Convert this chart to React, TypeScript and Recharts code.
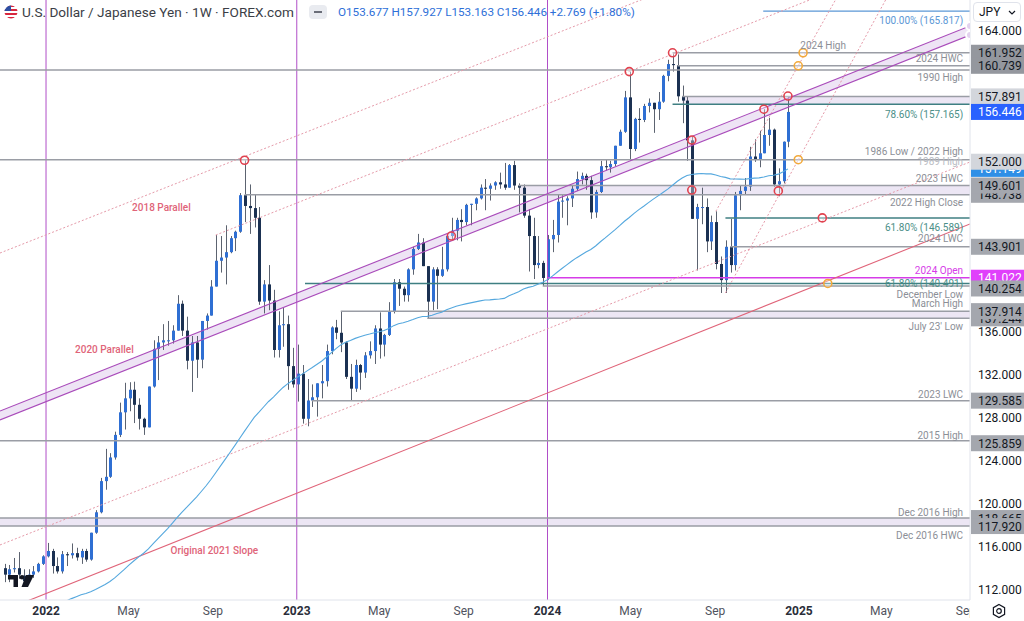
import React from "react";
import {
  Area,
  Bar,
  ComposedChart,
  Line,
  ReferenceArea,
  ReferenceDot,
  ReferenceLine,
  XAxis,
  YAxis,
} from "recharts";

const FONT = "Roboto, 'Noto Sans', Arial, sans-serif";

const W = 1024;
const H = 621;
const PLOT_RIGHT = 970;

const DAY = 86400000;
const day = (s: string) => Date.parse(s);

// visible window
const X_START = "2021-10-26";
const X_END = "2025-09-07";
const PRICE_MIN = 111.04;
const PRICE_MAX = 166.86;

// weekly bars [open, high, low, close], the first one is the week of 1 Nov 2021
const FIRST_WEEK = "2021-11-01";

const bars2021 = [
  [114.0, 114.4, 112.7, 113.4], [113.4, 114.3, 112.7, 113.9], [113.9, 114.95, 113.6, 114.0],
  [114.0, 115.5, 113.0, 113.4], [113.3, 113.9, 112.5, 112.8], [112.8, 113.9, 112.7, 113.4],
  [113.4, 114.2, 113.1, 113.7], [113.7, 114.5, 113.6, 114.4], [114.4, 115.2, 114.3, 115.1],
];

const bars2022 = [
  [115.1, 116.35, 115.0, 115.6], [115.6, 115.8, 113.5, 114.2], [114.2, 115.0, 113.5, 113.7],
  [113.7, 115.6, 113.5, 115.3], [115.3, 115.5, 114.2, 115.2], [115.2, 116.3, 114.9, 115.4],
  [115.4, 115.9, 114.7, 115.0], [115.0, 115.8, 114.4, 115.6], [115.6, 115.8, 114.6, 114.8],
  [114.8, 117.3, 114.7, 117.3], [117.3, 119.4, 117.2, 119.2], [119.2, 122.4, 119.1, 122.1],
  [122.1, 125.1, 121.3, 122.5], [122.5, 124.7, 122.4, 124.3], [124.3, 126.7, 124.1, 126.4],
  [126.4, 129.4, 126.2, 128.5], [128.5, 131.25, 126.9, 129.8], [129.8, 131.3, 128.6, 130.6],
  [130.6, 131.35, 127.5, 129.2], [129.2, 129.8, 126.9, 127.9], [127.9, 128.0, 126.4, 127.1],
  [127.1, 130.9, 127.1, 130.9], [130.9, 135.2, 130.8, 134.4], [134.4, 135.6, 131.5, 135.0],
  [135.0, 136.7, 134.3, 135.2], [135.2, 137.0, 134.7, 135.2], [135.2, 136.6, 134.9, 136.1],
  [136.1, 139.4, 136.1, 138.6], [138.6, 138.9, 135.6, 136.1], [136.1, 137.4, 132.5, 133.3],
  [133.3, 135.6, 130.4, 135.0], [135.0, 135.6, 131.7, 133.4], [133.4, 137.0, 132.6, 137.0],
  [137.0, 137.7, 136.2, 137.5], [137.5, 140.8, 137.5, 140.2], [140.2, 144.99, 140.2, 142.6],
  [142.6, 144.9, 141.5, 142.9], [142.9, 145.9, 140.4, 143.4], [143.4, 144.9, 143.3, 144.7],
  [144.7, 145.4, 143.5, 145.3], [145.3, 148.9, 145.2, 148.7], [148.7, 151.95, 146.2, 147.7],
  [147.7, 149.7, 145.1, 147.5], [147.5, 148.8, 145.7, 146.6], [146.6, 147.6, 138.5, 138.8],
  [138.8, 140.8, 137.7, 140.4], [140.4, 142.2, 138.0, 138.9], [138.9, 139.9, 133.6, 134.3],
  [134.3, 137.9, 133.6, 136.6], [136.6, 138.2, 134.6, 136.7], [136.7, 137.5, 130.6, 132.8],
  [132.8, 134.5, 130.8, 131.1],
];

const bars2023 = [
  [131.1, 134.8, 129.5, 132.1], [132.1, 132.9, 127.45, 127.9], [127.9, 131.6, 127.2, 129.6],
  [129.6, 131.1, 129.0, 129.9], [129.9, 131.2, 128.1, 131.2], [131.2, 132.9, 129.8, 131.4],
  [131.4, 134.8, 130.9, 134.2], [134.2, 136.5, 133.9, 136.4], [136.4, 137.1, 135.3, 135.9],
  [135.9, 137.9, 134.1, 135.0], [135.0, 135.1, 131.6, 131.8], [131.8, 133.0, 129.6, 130.7],
  [130.7, 133.4, 130.4, 132.9], [132.9, 133.0, 130.6, 132.2], [132.2, 134.1, 131.7, 133.8],
  [133.8, 135.1, 133.5, 134.2], [134.2, 136.6, 133.0, 136.3], [136.3, 137.8, 133.5, 134.8],
  [134.8, 135.8, 133.7, 135.7], [135.7, 138.75, 135.6, 137.9], [137.9, 140.9, 137.7, 140.6],
  [140.6, 140.9, 138.4, 140.0], [140.0, 140.2, 138.8, 139.4], [139.4, 141.9, 138.8, 141.8],
  [141.8, 143.9, 141.3, 143.7], [143.7, 145.1, 143.6, 144.3], [144.3, 144.7, 142.1, 142.1],
  [142.1, 142.1, 137.2, 138.8], [138.8, 142.0, 138.0, 141.8], [141.8, 142.0, 138.1, 141.2],
  [141.2, 143.9, 141.1, 141.8], [141.8, 144.9, 141.6, 144.9], [144.9, 146.6, 144.6, 145.4],
  [145.4, 146.6, 144.5, 146.4], [146.4, 147.4, 144.4, 146.2], [146.2, 147.9, 145.9, 147.8],
  [147.8, 147.9, 145.9, 147.9], [147.9, 148.5, 147.3, 148.4], [148.4, 149.7, 148.3, 149.4],
  [149.4, 150.2, 147.3, 149.3], [149.3, 149.8, 148.2, 149.6], [149.6, 150.0, 149.2, 149.9],
  [149.9, 150.8, 149.3, 149.7], [149.7, 151.7, 149.2, 149.4], [149.4, 151.6, 149.4, 151.5],
  [151.5, 151.9, 149.2, 149.6], [149.6, 149.8, 147.1, 149.4], [149.4, 149.7, 146.6, 146.8],
  [146.8, 147.4, 141.6, 144.9], [144.9, 146.6, 140.9, 142.2], [142.2, 144.9, 141.9, 142.4],
  [142.4, 142.6, 140.25, 141.0],
];

const bars2024 = [
  [141.0, 145.0, 140.8, 144.6], [144.6, 146.4, 143.4, 145.0], [145.0, 148.8, 144.3, 148.1],
  [148.1, 148.7, 146.6, 148.2], [148.2, 148.6, 145.9, 148.4], [148.4, 149.6, 147.6, 149.3],
  [149.3, 150.9, 149.1, 150.2], [150.2, 150.8, 149.7, 150.5], [150.5, 150.7, 149.2, 150.1],
  [150.1, 150.5, 146.5, 147.1], [147.1, 149.2, 146.6, 149.0], [149.0, 151.9, 148.9, 151.4],
  [151.4, 151.97, 151.0, 151.3], [151.3, 151.9, 150.8, 151.6], [151.6, 153.3, 151.4, 153.3],
  [153.3, 154.8, 153.3, 154.6], [154.6, 158.4, 154.5, 157.8], [157.8, 160.2, 151.9, 153.0],
  [153.0, 155.9, 152.8, 155.8], [155.8, 156.8, 153.6, 155.7], [155.7, 157.2, 155.5, 157.0],
  [157.0, 157.7, 156.4, 157.3], [157.3, 157.3, 154.5, 156.7], [156.7, 158.3, 155.7, 157.4],
  [157.4, 159.9, 157.3, 159.8], [159.8, 161.3, 159.3, 160.9], [160.9, 161.95, 160.2, 160.8],
  [160.8, 161.8, 157.4, 157.9], [157.9, 158.9, 155.4, 157.5], [157.5, 157.9, 151.9, 153.8],
  [153.8, 154.2, 146.5, 146.5], [146.5, 147.9, 141.7, 147.6], [147.6, 149.4, 146.0, 147.6],
  [147.6, 148.4, 143.4, 144.4], [144.4, 146.8, 143.6, 146.2], [146.2, 147.2, 141.8, 142.3],
  [142.3, 143.0, 139.6, 140.8], [140.8, 144.5, 139.6, 143.9], [143.9, 146.5, 141.5, 142.2],
  [142.2, 149.0, 141.7, 148.7], [148.7, 149.6, 147.3, 149.1], [149.1, 150.3, 148.8, 149.5],
  [149.5, 153.2, 149.1, 152.3], [152.3, 153.9, 151.8, 152.0], [152.0, 154.7, 151.3, 152.6],
  [152.6, 156.7, 152.6, 154.3], [154.3, 155.9, 153.3, 154.8], [154.8, 154.9, 149.5, 149.7],
  [149.7, 151.2, 148.6, 150.0], [150.0, 153.7, 149.8, 153.677], [153.677, 157.927, 153.163, 156.446],
];

// weekly closes Nov 2020 - Oct 2021, seed for the 52-week average
const closesBefore = [
  103.35, 104.63, 103.86, 104.08, 104.16, 104.04, 103.29, 103.64, 103.24, 103.94, 103.86, 103.77,
  104.68, 105.4, 104.94, 105.43, 106.57, 108.34, 109.03, 108.88, 109.64, 110.69, 109.65, 108.77,
  107.88, 109.3, 108.59, 109.37, 108.96, 109.85, 109.52, 109.66, 110.22, 110.77, 111.05, 110.14,
  110.06, 110.54, 109.71, 110.25, 109.6, 109.77, 109.85, 109.71, 109.89, 109.94, 110.74, 111.05,
  112.2, 114.21, 113.48, 113.96,
];
const MA_LENGTH = 52;

// x-axis ticks
const timeTicks = [
  "2022-01-01", "2022-05-01", "2022-09-01", "2023-01-01", "2023-05-01", "2023-09-01",
  "2024-01-01", "2024-05-01", "2024-09-01", "2025-01-01", "2025-05-01", "2025-09-01",
];
const plainPriceTicks = [164, 136, 132, 128, 124, 120, 116, 112];

// year separators
const yearLines = ["2022-01-01", "2023-01-01", "2024-01-01"];

// horizontal levels [price, first date or null for full width]
const greyLevels: [number, string | null][] = [
  [161.952, "2024-07-01"],
  [160.739, "2024-07-08"],
  [160.35, null],
  [157.891, "2024-07-15"],
  [152.0, null],
  [149.601, "2023-11-20"],
  [148.738, "2022-10-17"],
  [143.901, "2024-09-23"],
  [140.254, "2023-12-25"],
  [137.914, "2023-03-06"],
  [137.244, "2023-07-10"],
  [129.585, "2023-01-23"],
  [125.859, null],
  [118.665, null],
  [117.92, null],
];
const fibLevels: [number, string][] = [
  [157.165, "2024-07-01"],
  [146.589, "2024-09-16"],
  [140.491, "2023-01-13"],
];
const fibExtension: [number, string] = [165.817, "2024-11-10"];
const yearOpen: [number, string] = [141.022, "2024-01-01"];

// shaded zones [low, high, first date or null]
const zones: [number, number, string | null][] = [
  [157.165, 157.891, "2024-07-15"],
  [148.738, 149.601, "2023-11-20"],
  [137.244, 137.914, "2023-07-10"],
  [117.92, 118.665, null],
];

// trendlines [[date, price], [date, price]]
type Pt = [string, number];
const channelTop: [Pt, Pt] = [["2021-10-26", 128.62], ["2025-09-07", 164.44]];
const channelBottom: [Pt, Pt] = [["2021-10-26", 127.79], ["2025-09-07", 163.6]];
const slope2021: [Pt, Pt] = [["2021-10-26", 109.93], ["2025-09-07", 146.02]];
const parallels: [Pt, Pt][] = [
  [["2021-10-26", 143.32], ["2025-09-07", 178.95]],
  [["2022-09-05", 144.99], ["2025-09-07", 172.77]],
  [["2021-10-26", 116.16], ["2025-09-07", 151.79]],
];
const fanLines: [Pt, Pt][] = [
  [["2024-09-02", 147.2], ["2025-03-07", 168.2]],
  [["2024-09-16", 139.6], ["2025-05-28", 169.3]],
];

// pivots
const redMarks: Pt[] = [
  ["2022-10-17", 151.95], ["2023-08-14", 144.9], ["2024-04-29", 160.2], ["2024-07-01", 161.95],
  ["2024-07-29", 153.83], ["2024-07-29", 149.18], ["2024-11-11", 156.7], ["2024-12-02", 149.1],
  ["2024-12-16", 157.927], ["2025-02-04", 146.589],
];
const orangeMarks: Pt[] = [
  ["2025-01-07", 161.952], ["2024-12-31", 160.739], ["2024-12-31", 152.0], ["2025-02-12", 140.491],
];

// captions, right aligned at the plot edge [price, text]
const greyCaptions: [number, string][] = [
  [161.46, "2024 HWC"], [159.65, "1990 High"], [152.72, "1986 Low / 2022 High"],
  [150.3, "2023 HWC"], [147.98, "2022 High Close"], [144.63, "2024 LWC"],
  [139.46, "December Low"], [138.58, "March High"], [136.48, "July 23' Low"],
  [130.2, "2023 LWC"], [126.38, "2015 High"], [119.22, "Dec 2016 High"], [117.04, "Dec 2016 HWC"],
];
const faintCaptions: [number, string][] = [[151.88, "1989 High"]];
const fibCaptions: [number, string][] = [
  [156.25, "78.60% (157.165)"], [145.65, "61.80% (146.589)"], [140.44, "61.80% (140.491)"],
];
const extensionCaption: [number, string] = [164.95, "100.00% (165.817)"];
const openCaption: [number, string] = [141.65, "2024 Open"];
const highCaption: [string, number, string] = ["2025-01-03", 162.67, "2024 High"];
const lineCaptions: [string, number, string][] = [
  ["2022-06-18", 147.6, "2018 Parallel"],
  ["2022-03-27", 134.39, "2020 Parallel"],
  ["2022-09-03", 115.6, "Original 2021 Slope"],
];

const UP = "#2f6fd3";
const DOWN = "#1b3152";
const WICK = "#5c6370";
const BORDER = "#e0e3eb";
const LEVEL = "#9a9da5";
const CAPTION = "#8c8f97";
const TEAL = "#3f7f82";
const TEAL_TEXT = "#4b8f88";
const FIB_BLUE = "#5b97d6";
const MAGENTA = "#d63ce8";
const YEAR_LINE = "#b04ec8";
const CHANNEL = "#a94bba";
const CHANNEL_FILL = "#e2d2ee";
const SLOPE = "#e06479";
const DOTTED = "#e59aa9";
const MA_BLUE = "#55a8de";
const ZONE_FILL = "#e6def0";
const MONTHS = ["Jan", "Feb", "Mar", "Apr", "May", "Jun", "Jul", "Aug", "Sep", "Oct", "Nov", "Dec"];

const X_MIN = day(X_START);
const X_MAX = day(X_END);
const CAPTION_X = X_MAX - 10 * DAY;

const rows = [...bars2021, ...bars2022, ...bars2023, ...bars2024];
const allCloses = [...closesBefore, ...rows.map((r) => r[3])];
const candles = rows.map(([o, h, l, c], i) => {
  const j = closesBefore.length + i;
  const win = allCloses.slice(j - MA_LENGTH + 1, j + 1);
  return {
    t: day(FIRST_WEEK) + i * 7 * DAY,
    o, h, l, c,
    range: [l, h],
    ma: win.reduce((a, b) => a + b, 0) / win.length,
  };
});
const last = candles[candles.length - 1];
const prevClose = candles[candles.length - 2].c;

const channelBand = [
  { t: day(channelBottom[0][0]), band: [channelBottom[0][1], channelTop[0][1]] },
  { t: day(channelBottom[1][0]), band: [channelBottom[1][1], channelTop[1][1]] },
];

// price-axis badges, drawn in order (later ones cover earlier ones)
const GREY_BADGE = "#a4a7ae";
const LIGHT_BADGE = "#d3d6dc";
const badges: { v: number; bg: string; fg: string; dy?: number }[] = [
  { v: last.ma, bg: "#2f8fe6", fg: "#fff" },
  { v: 148.738, bg: GREY_BADGE, fg: "#131722" },
  { v: 141.022, bg: "#e040fb", fg: "#fff" },
  { v: 137.244, bg: GREY_BADGE, fg: "#131722" },
  { v: 118.665, bg: GREY_BADGE, fg: "#131722" },
  { v: 161.952, bg: "#94979e", fg: "#131722" },
  { v: 160.739, bg: "#94979e", fg: "#131722" },
  { v: 157.891, bg: LIGHT_BADGE, fg: "#131722" },
  { v: last.c, bg: "#2962ff", fg: "#fff" },
  { v: 152.0, bg: LIGHT_BADGE, fg: "#131722", dy: 2 },
  { v: 149.601, bg: GREY_BADGE, fg: "#131722" },
  { v: 143.901, bg: GREY_BADGE, fg: "#131722" },
  { v: 140.254, bg: GREY_BADGE, fg: "#131722", dy: 2.5 },
  { v: 137.914, bg: GREY_BADGE, fg: "#131722" },
  { v: 129.585, bg: GREY_BADGE, fg: "#131722" },
  { v: 125.859, bg: GREY_BADGE, fg: "#131722", dy: 2.5 },
  { v: 117.92, bg: GREY_BADGE, fg: "#131722" },
];
const priceTicks = [...plainPriceTicks, ...badges.map((b) => b.v)];

function Candle(props: any) {
  const { x, y, width, height, payload } = props;
  if (!payload || height == null) return null;
  const { o, h, l, c } = payload;
  const span = h - l || 1;
  const py = (v: number) => y + ((h - v) / span) * height;
  const cx = Math.round(x + width / 2) + 0.5;
  const top = py(Math.max(o, c));
  const bot = py(Math.min(o, c));
  return (
    <g>
      <line x1={cx} x2={cx} y1={y} y2={y + height} stroke={WICK} strokeWidth={1} />
      <rect x={cx - 1.5} y={top} width={3} height={Math.max(1, bot - top)} fill={c >= o ? UP : DOWN} />
    </g>
  );
}

function TimeTick({ x, y, payload }: any) {
  const d = new Date(payload.value);
  const m = d.getUTCMonth();
  const isYear = m === 0;
  return (
    <svg x={0} y={y} width={PLOT_RIGHT} height={21} overflow="hidden">
      <text
        x={x}
        y={15}
        textAnchor="middle"
        fontSize={12}
        fontWeight={isYear ? 700 : 400}
        fill={isYear ? "#2a2e39" : "#50535e"}
        fontFamily={FONT}
      >
        {isYear ? d.getUTCFullYear() : MONTHS[m]}
      </text>
    </svg>
  );
}

function PriceTick({ y, payload, index }: any) {
  const v = payload.value;
  const bi = index - plainPriceTicks.length;
  const b = bi >= 0 ? badges[bi] : null;
  if (!b) {
    return (
      <text x={PLOT_RIGHT + 8} y={y} dy={4.5} fontSize={12} fill="#131722" fontFamily={FONT}>
        {v.toFixed(3)}
      </text>
    );
  }
  const cy = y + (b.dy ?? 0);
  return (
    <g>
      <rect x={PLOT_RIGHT + 1} y={cy - 8} width={W - PLOT_RIGHT - 1} height={16} fill={b.bg} />
      <text x={PLOT_RIGHT + 8} y={cy} dy={4.5} fontSize={12} fill={b.fg} fontFamily={FONT}>
        {v.toFixed(3)}
      </text>
    </g>
  );
}

const caption = (text: string, color: string, anchor: "start" | "middle" | "end", weight = 400) =>
  (p: any) => (
    <text
      x={p.cx}
      y={p.cy}
      dy={3.5}
      textAnchor={anchor}
      fontSize={10}
      fontWeight={weight}
      fill={color}
      fontFamily={FONT}
    >
      {text}
    </text>
  );

const ring = (color: string, r: number) => (p: any) => (
  <circle cx={p.cx} cy={p.cy} r={r} fill="#ffffff" fillOpacity={0.35} stroke={color} strokeWidth={1.6} />
);

const seg = ([a, b]: [Pt, Pt]) => [
  { x: day(a[0]), y: a[1] },
  { x: day(b[0]), y: b[1] },
];

function Header() {
  const change = last.c - prevClose;
  const pct = (change / prevClose) * 100;
  return (
    <>
      <svg style={{ position: "absolute", left: 4, top: 5 }} width={14} height={14}>
        <defs>
          <clipPath id="flag">
            <circle cx={7} cy={7} r={6.5} />
          </clipPath>
        </defs>
        <g clipPath="url(#flag)">
          <rect x={0} y={0} width={14} height={14} fill="#fff" />
          {[0, 4, 8, 12].map((s) => (
            <rect key={s} x={0} y={s} width={14} height={2} fill="#d7263d" />
          ))}
          <rect x={0} y={0} width={7} height={6} fill="#2d4ea2" />
        </g>
      </svg>
      <div
        style={{
          position: "absolute",
          left: 22,
          top: 4,
          fontSize: 13.6,
          color: "#3b3e46",
          whiteSpace: "nowrap",
          lineHeight: "16px",
        }}
      >
        U.S. Dollar / Japanese Yen · 1W · FOREX.com
      </div>
      <div
        style={{
          position: "absolute",
          left: 309,
          top: 5,
          width: 18,
          height: 14,
          borderRadius: 4,
          background: "#e9ebf0",
        }}
      >
        <div style={{ position: "absolute", left: 5, top: 6, width: 8, height: 2, background: "#6a6d78" }} />
      </div>
      <div
        style={{
          position: "absolute",
          left: 338,
          top: 5,
          fontSize: 11.7,
          color: "#2e6fd8",
          whiteSpace: "nowrap",
          lineHeight: "15px",
        }}
      >
        {`O${last.o.toFixed(3)} H${last.h.toFixed(3)} L${last.l.toFixed(3)} C${last.c.toFixed(3)} +${change.toFixed(3)} (+${pct.toFixed(2)}%)`}
      </div>
    </>
  );
}

function Chrome() {
  return (
    <>
      <div
        style={{
          position: "absolute",
          left: 973,
          top: 2,
          width: 48,
          height: 20,
          border: `1px solid ${BORDER}`,
          borderRadius: 4,
          background: "#fff",
          boxSizing: "border-box",
        }}
      >
        <span style={{ position: "absolute", left: 5, top: 2, fontSize: 12, color: "#131722" }}>JPY</span>
        <svg style={{ position: "absolute", left: 34, top: 7 }} width={8} height={5}>
          <path d="M1 1 L4 4 L7 1" fill="none" stroke="#131722" strokeWidth={1.2} />
        </svg>
      </div>
      <svg style={{ position: "absolute", left: 991, top: 603 }} width={16} height={16}>
        <path d="M8 1.5 L13.6 4.7 L13.6 11.3 L8 14.5 L2.4 11.3 L2.4 4.7 Z" fill="none" stroke="#131722" strokeWidth={1.2} />
        <circle cx={8} cy={8} r={2.3} fill="none" stroke="#131722" strokeWidth={1.2} />
      </svg>
      <svg style={{ position: "absolute", left: 8, top: 575 }} width={28} height={13}>
        <path d="M0 0 H10 V12 H5.5 V4.5 H0 Z" fill="#131722" />
        <circle cx={14} cy={2.3} r={2.3} fill="#131722" />
        <path d="M18 0 H26 L20 12 H13.5 Z" fill="#131722" />
      </svg>
    </>
  );
}

export default function App() {
  return (
    <div
      style={{
        position: "absolute",
        left: 0,
        top: 0,
        width: W,
        height: H,
        background: "#fff",
        overflow: "hidden",
        fontFamily: FONT,
      }}
    >
      <ComposedChart width={W} height={H} data={candles} margin={{ top: 0, right: 0, bottom: 0, left: 0 }}>
        <XAxis
          dataKey="t"
          type="number"
          domain={[X_MIN, X_MAX]}
          allowDataOverflow
          ticks={timeTicks.map(day)}
          interval={0}
          tick={<TimeTick />}
          tickLine={false}
          tickSize={0}
          tickMargin={0}
          axisLine={{ stroke: BORDER }}
          height={21}
        />
        <YAxis
          orientation="right"
          type="number"
          domain={[PRICE_MIN, PRICE_MAX]}
          allowDataOverflow
          ticks={priceTicks}
          interval={0}
          tick={<PriceTick />}
          tickLine={false}
          tickSize={0}
          tickMargin={0}
          axisLine={{ stroke: BORDER }}
          width={W - PLOT_RIGHT}
        />

        {zones.map(([lo, hi, from], i) => (
          <ReferenceArea
            key={`z${i}`}
            x1={from ? day(from) : X_MIN}
            x2={X_MAX}
            y1={lo}
            y2={hi}
            fill={ZONE_FILL}
            fillOpacity={0.75}
            stroke="none"
            ifOverflow="hidden"
          />
        ))}

        <Area
          data={channelBand}
          dataKey="band"
          type="linear"
          stroke="none"
          fill={CHANNEL_FILL}
          fillOpacity={0.6}
          isAnimationActive={false}
        />

        {yearLines.map((d) => (
          <ReferenceLine key={d} x={day(d)} stroke={YEAR_LINE} strokeWidth={1} />
        ))}

        {greyLevels.map(([p, from], i) =>
          from ? (
            <ReferenceLine
              key={`g${i}`}
              segment={[{ x: day(from), y: p }, { x: X_MAX, y: p }]}
              stroke={LEVEL}
              strokeWidth={1.5}
              ifOverflow="hidden"
            />
          ) : (
            <ReferenceLine key={`g${i}`} y={p} stroke={LEVEL} strokeWidth={1.5} />
          )
        )}
        {fibLevels.map(([p, from], i) => (
          <ReferenceLine
            key={`f${i}`}
            segment={[{ x: day(from), y: p }, { x: X_MAX, y: p }]}
            stroke={TEAL}
            strokeWidth={1.5}
            ifOverflow="hidden"
          />
        ))}
        <ReferenceLine
          segment={[{ x: day(fibExtension[1]), y: fibExtension[0] }, { x: X_MAX, y: fibExtension[0] }]}
          stroke={FIB_BLUE}
          strokeWidth={1.2}
          ifOverflow="hidden"
        />
        <ReferenceLine
          segment={[{ x: day(yearOpen[1]), y: yearOpen[0] }, { x: X_MAX, y: yearOpen[0] }]}
          stroke={MAGENTA}
          strokeWidth={1.5}
          ifOverflow="hidden"
        />

        {parallels.map((l, i) => (
          <ReferenceLine key={`p${i}`} segment={seg(l)} stroke={DOTTED} strokeDasharray="2 2" strokeWidth={1} ifOverflow="hidden" />
        ))}
        {fanLines.map((l, i) => (
          <ReferenceLine key={`fan${i}`} segment={seg(l)} stroke={DOTTED} strokeDasharray="2 2" strokeWidth={1} ifOverflow="hidden" />
        ))}
        <ReferenceLine segment={seg(slope2021)} stroke={SLOPE} strokeWidth={1.1} ifOverflow="hidden" />
        <ReferenceLine segment={seg(channelTop)} stroke={CHANNEL} strokeWidth={1.1} ifOverflow="hidden" />
        <ReferenceLine segment={seg(channelBottom)} stroke={CHANNEL} strokeWidth={1.1} ifOverflow="hidden" />

        <Line
          dataKey="ma"
          type="linear"
          dot={false}
          stroke={MA_BLUE}
          strokeWidth={1.1}
          isAnimationActive={false}
        />
        <Bar dataKey="range" barSize={3} shape={<Candle />} isAnimationActive={false} />

        {redMarks.map(([d, p], i) => (
          <ReferenceDot key={`r${i}`} x={day(d)} y={p} r={4} shape={ring("#e0424f", 4)} />
        ))}
        {orangeMarks.map(([d, p], i) => (
          <ReferenceDot key={`o${i}`} x={day(d)} y={p} r={4} shape={ring("#f2a93b", 4)} />
        ))}

        {greyCaptions.map(([p, t]) => (
          <ReferenceDot key={t} x={CAPTION_X} y={p} r={1} shape={caption(t, CAPTION, "end")} />
        ))}
        {faintCaptions.map(([p, t]) => (
          <ReferenceDot key={t} x={CAPTION_X} y={p} r={1} shape={caption(t, "#b9bcc3", "end")} />
        ))}
        {fibCaptions.map(([p, t]) => (
          <ReferenceDot key={t} x={CAPTION_X} y={p} r={1} shape={caption(t, TEAL_TEXT, "end")} />
        ))}
        <ReferenceDot
          x={CAPTION_X}
          y={extensionCaption[0]}
          r={1}
          shape={caption(extensionCaption[1], FIB_BLUE, "end")}
        />
        <ReferenceDot x={CAPTION_X} y={openCaption[0]} r={1} shape={caption(openCaption[1], MAGENTA, "end")} />
        <ReferenceDot
          x={day(highCaption[0])}
          y={highCaption[1]}
          r={1}
          shape={caption(highCaption[2], CAPTION, "start")}
        />
        {lineCaptions.map(([d, p, t]) => (
          <ReferenceDot key={t} x={day(d)} y={p} r={1} shape={caption(t, SLOPE, "middle", 500)} />
        ))}
      </ComposedChart>
      <Header />
      <Chrome />
    </div>
  );
}
